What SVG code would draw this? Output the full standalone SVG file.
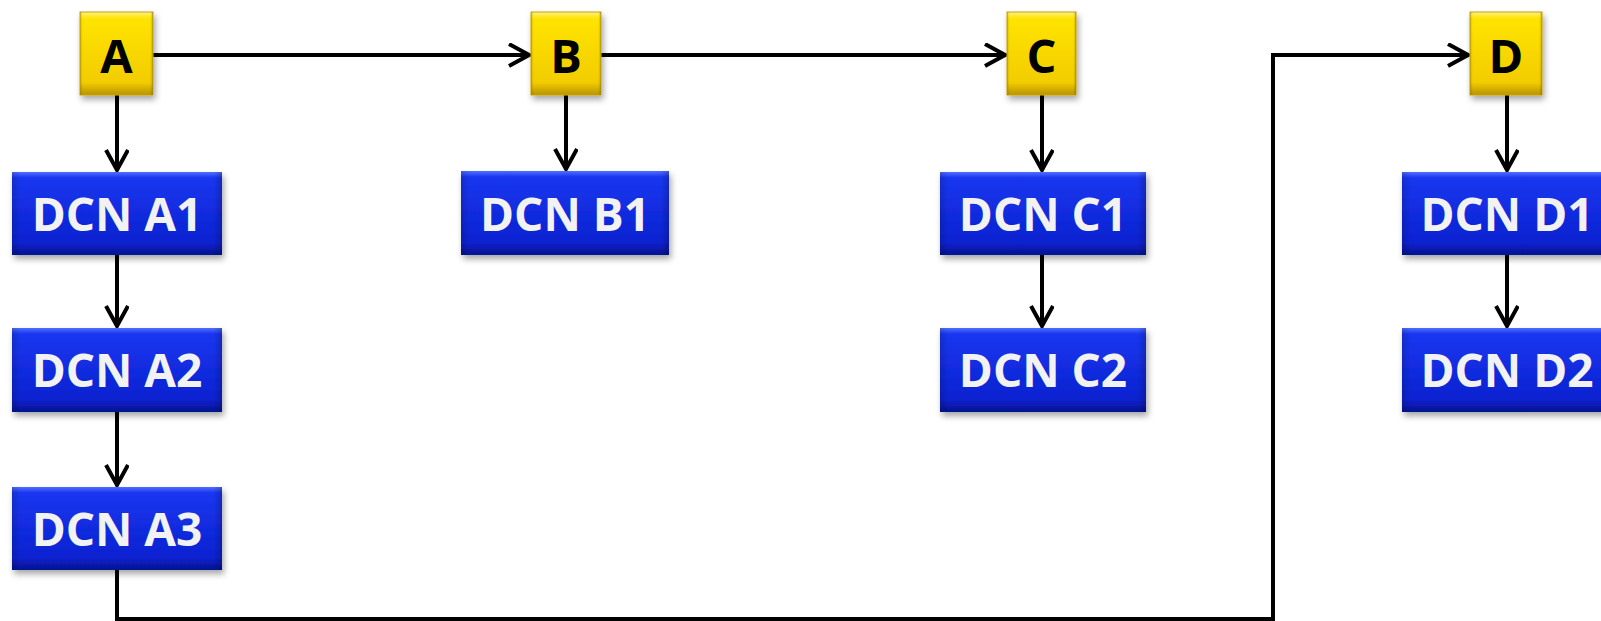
<svg xmlns="http://www.w3.org/2000/svg" width="1601" height="621" viewBox="0 0 1601 621">
<style>
.conn{fill:none;stroke:#000;stroke-width:4;stroke-linejoin:miter}
.yl{font-family:"Open Sans","Liberation Sans",sans-serif;font-weight:bold;font-size:47px;fill:#000;text-anchor:middle}
.bl{font-family:"Open Sans","Liberation Sans",sans-serif;font-weight:bold;font-size:46px;fill:#F2F2F2;text-anchor:middle}
</style>
<defs>
<linearGradient id="gy" x1="0" y1="0" x2="0" y2="1">
<stop offset="0" stop-color="#FFF08A"/>
<stop offset="0.08" stop-color="#FFE400"/>
<stop offset="0.85" stop-color="#F2CC00"/>
<stop offset="1" stop-color="#B89400"/>
</linearGradient>
<linearGradient id="gb" x1="0" y1="0" x2="0" y2="1">
<stop offset="0" stop-color="#5070FF"/>
<stop offset="0.07" stop-color="#1A36F0"/>
<stop offset="0.85" stop-color="#0A22D0"/>
<stop offset="1" stop-color="#051290"/>
</linearGradient>
<linearGradient id="gside" x1="0" y1="0" x2="1" y2="0">
<stop offset="0" stop-color="#000" stop-opacity="0.15"/>
<stop offset="0.04" stop-color="#000" stop-opacity="0"/>
<stop offset="0.96" stop-color="#000" stop-opacity="0"/>
<stop offset="1" stop-color="#000" stop-opacity="0.2"/>
</linearGradient>
<filter id="sh" x="-10%" y="-10%" width="125%" height="130%">
<feDropShadow dx="2" dy="4" stdDeviation="3" flood-color="#000" flood-opacity="0.35"/>
</filter>
<marker id="ah" markerWidth="24" markerHeight="26" refX="21" refY="12" orient="auto" markerUnits="userSpaceOnUse">
<path d="M1,1 L21,12 L1,23" fill="none" stroke="#000" stroke-width="4"/>
</marker>
</defs>

<g id="connectors">
<path class="conn" d="M153,55 H529" marker-end="url(#ah)"/>
<path class="conn" d="M601,55 H1005" marker-end="url(#ah)"/>
<path class="conn" d="M117,570 V619 H1273 V55 H1468" marker-end="url(#ah)"/>
<path class="conn" d="M117,95 V170" marker-end="url(#ah)"/>
<path class="conn" d="M117,255 V326" marker-end="url(#ah)"/>
<path class="conn" d="M117,412 V485" marker-end="url(#ah)"/>
<path class="conn" d="M566,95 V169" marker-end="url(#ah)"/>
<path class="conn" d="M1042,95 V170" marker-end="url(#ah)"/>
<path class="conn" d="M1042,255 V326" marker-end="url(#ah)"/>
<path class="conn" d="M1507,95 V170" marker-end="url(#ah)"/>
<path class="conn" d="M1507,255 V326" marker-end="url(#ah)"/>
</g>

<g id="A"><rect x="80" y="12" width="73" height="83" fill="url(#gy)" stroke="#C9A400" stroke-width="1" filter="url(#sh)"/><rect x="80" y="12" width="73" height="83" fill="url(#gside)"/><text class="yl" x="116.5" y="73">A</text></g>
<g id="B"><rect x="531" y="12" width="70" height="83" fill="url(#gy)" stroke="#C9A400" stroke-width="1" filter="url(#sh)"/><rect x="531" y="12" width="70" height="83" fill="url(#gside)"/><text class="yl" x="566" y="73">B</text></g>
<g id="C"><rect x="1007" y="12" width="69" height="83" fill="url(#gy)" stroke="#C9A400" stroke-width="1" filter="url(#sh)"/><rect x="1007" y="12" width="69" height="83" fill="url(#gside)"/><text class="yl" x="1041.5" y="73">C</text></g>
<g id="D"><rect x="1470" y="12" width="72" height="83" fill="url(#gy)" stroke="#C9A400" stroke-width="1" filter="url(#sh)"/><rect x="1470" y="12" width="72" height="83" fill="url(#gside)"/><text class="yl" x="1506" y="73">D</text></g>

<g id="DCN_A1"><rect x="12" y="172" width="210" height="83" fill="url(#gb)" filter="url(#sh)"/><rect x="12" y="172" width="210" height="83" fill="url(#gside)"/><text class="bl" x="117" y="231">DCN A1</text></g>
<g id="DCN_A2"><rect x="12" y="328" width="210" height="84" fill="url(#gb)" filter="url(#sh)"/><rect x="12" y="328" width="210" height="84" fill="url(#gside)"/><text class="bl" x="117" y="387">DCN A2</text></g>
<g id="DCN_A3"><rect x="12" y="487" width="210" height="83" fill="url(#gb)" filter="url(#sh)"/><rect x="12" y="487" width="210" height="83" fill="url(#gside)"/><text class="bl" x="117" y="546">DCN A3</text></g>
<g id="DCN_B1"><rect x="461" y="171" width="208" height="84" fill="url(#gb)" filter="url(#sh)"/><rect x="461" y="171" width="208" height="84" fill="url(#gside)"/><text class="bl" x="565" y="231">DCN B1</text></g>
<g id="DCN_C1"><rect x="940" y="172" width="206" height="83" fill="url(#gb)" filter="url(#sh)"/><rect x="940" y="172" width="206" height="83" fill="url(#gside)"/><text class="bl" x="1043" y="231">DCN C1</text></g>
<g id="DCN_C2"><rect x="940" y="328" width="206" height="84" fill="url(#gb)" filter="url(#sh)"/><rect x="940" y="328" width="206" height="84" fill="url(#gside)"/><text class="bl" x="1043" y="387">DCN C2</text></g>
<g id="DCN_D1"><rect x="1402" y="172" width="210" height="83" fill="url(#gb)" filter="url(#sh)"/><rect x="1402" y="172" width="210" height="83" fill="url(#gside)"/><text class="bl" x="1507" y="231">DCN D1</text></g>
<g id="DCN_D2"><rect x="1402" y="328" width="210" height="84" fill="url(#gb)" filter="url(#sh)"/><rect x="1402" y="328" width="210" height="84" fill="url(#gside)"/><text class="bl" x="1507" y="387">DCN D2</text></g>
</svg>
